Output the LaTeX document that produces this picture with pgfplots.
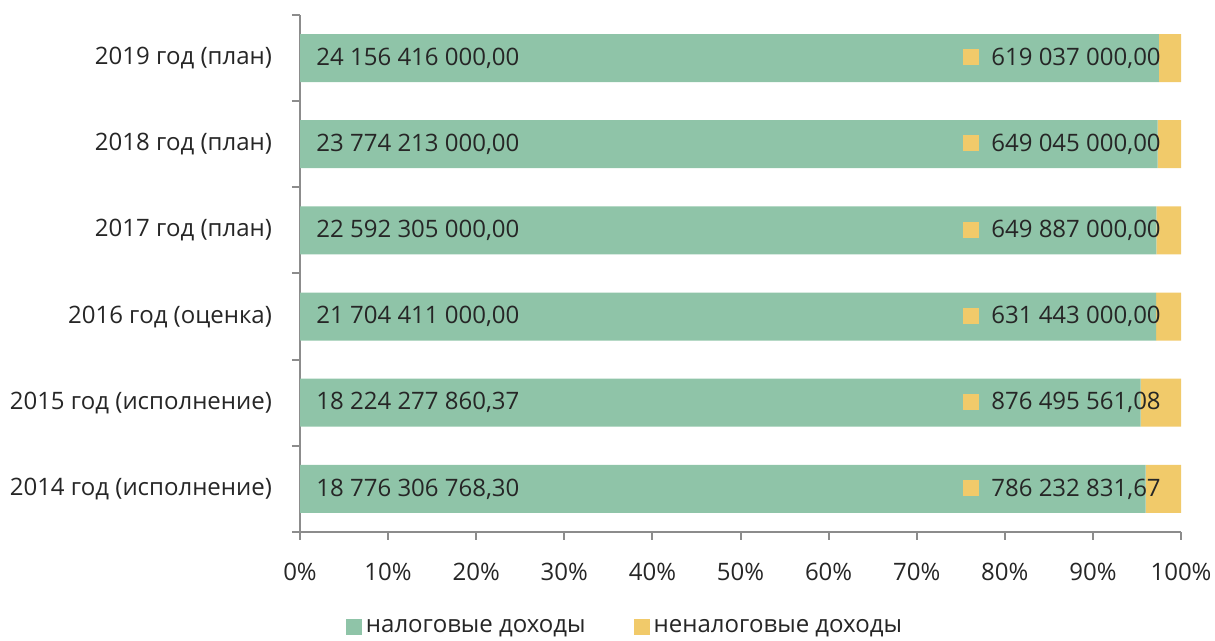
\documentclass[border=0pt]{standalone}
\usepackage{pgfplots}
\pgfplotsset{compat=1.18}
\usepackage{pgfplotstable}
\usepackage{fontspec}
\setmainfont{Open Sans}
\definecolor{taxgreen}{HTML}{8FC4A8}
\definecolor{nontaxyellow}{HTML}{F1CA6A}
\definecolor{axisgray}{HTML}{8C8C8C}
\definecolor{txt}{HTML}{262626}

% shares in percent of the total (tax + non-tax), with the printed values
\pgfplotstableread[col sep=semicolon]{
idx;tax;nontax;taxlab;nontaxlab
0;95.981;4.019;18 776 306 768,30;786 232 831,67
1;95.411;4.589;18 224 277 860,37;876 495 561,08
2;97.173;2.827;21 704 411 000,00;631 443 000,00
3;97.204;2.796;22 592 305 000,00;649 887 000,00
4;97.342;2.658;23 774 213 000,00;649 045 000,00
5;97.501;2.499;24 156 416 000,00;619 037 000,00
}\datatable

\newcommand{\fs}{\fontsize{12pt}{14pt}\selectfont}

\pgfplotsset{
  geom/.style={
    at={(150pt,54.5pt)}, anchor=south west,
    scale only axis, width=440.5pt, height=258.5pt,
    xmin=0, xmax=100, ymin=-0.5, ymax=5.5,
  }
}

\begin{document}
\begin{tikzpicture}
\begin{axis}[
  geom,
  xbar stacked, bar width=24pt,
  axis x line*=bottom, axis y line*=left,
  axis line style={axisgray, line width=1pt},
  xtick={0,10,...,100},
  xticklabel={\pgfmathprintnumber{\tick}\%},
  /pgf/number format/assume math mode=true,
  ytick={0,...,5},
  yticklabels={2014 год (исполнение),2015 год (исполнение),2016 год (оценка),2017 год (план),2018 год (план),2019 год (план)},
  minor ytick={-0.5,0.5,...,5.5},
  tick align=outside,
  major tick length=4pt, minor tick length=4pt,
  every major x tick/.style={axisgray, line width=1pt},
  every major y tick/.style={draw=none},
  every minor y tick/.style={axisgray, line width=1pt},
  tick label style={font=\fs, text=txt},
  xticklabel style={yshift=-8pt},
  yticklabel style={xshift=-6.5pt},
  legend style={at={(0.37,-0.184)}, anchor=center, draw=none, font=\fs, text=txt,
    legend columns=2, /tikz/every even column/.append style={column sep=22pt}},
  legend cell align=left,
  legend image code/.code={\fill[#1] (0pt,-4pt) rectangle (8pt,4pt);},
]
\addplot[fill=taxgreen, draw=none] table[x=tax, y=idx]{\datatable};
\addlegendentry{налоговые доходы}
\addplot[fill=nontaxyellow, draw=none] table[x=nontax, y=idx]{\datatable};
\addlegendentry{неналоговые доходы}
\end{axis}
\begin{axis}[geom, hide axis]
\addplot[draw=none, mark=none, nodes near coords, point meta=explicit symbolic,
  nodes near coords style={anchor=west, inner sep=0pt, xshift=8pt, text=txt, font=\fs}]
  table[x expr=0, y=idx, meta=taxlab]{\datatable};
\addplot[draw=none, mark=none, point meta=explicit symbolic,
  nodes near coords={\textcolor{nontaxyellow}{\rule{8pt}{8pt}}\hspace{6pt}\pgfplotspointmeta},
  nodes near coords style={anchor=west, inner sep=0pt, text=txt, font=\fs}]
  table[x expr=75.25, y=idx, meta=nontaxlab]{\datatable};
\end{axis}
\pgfresetboundingbox
\path[use as bounding box] (0,0) rectangle (607.5pt,320.5pt);
\end{tikzpicture}
\end{document}
